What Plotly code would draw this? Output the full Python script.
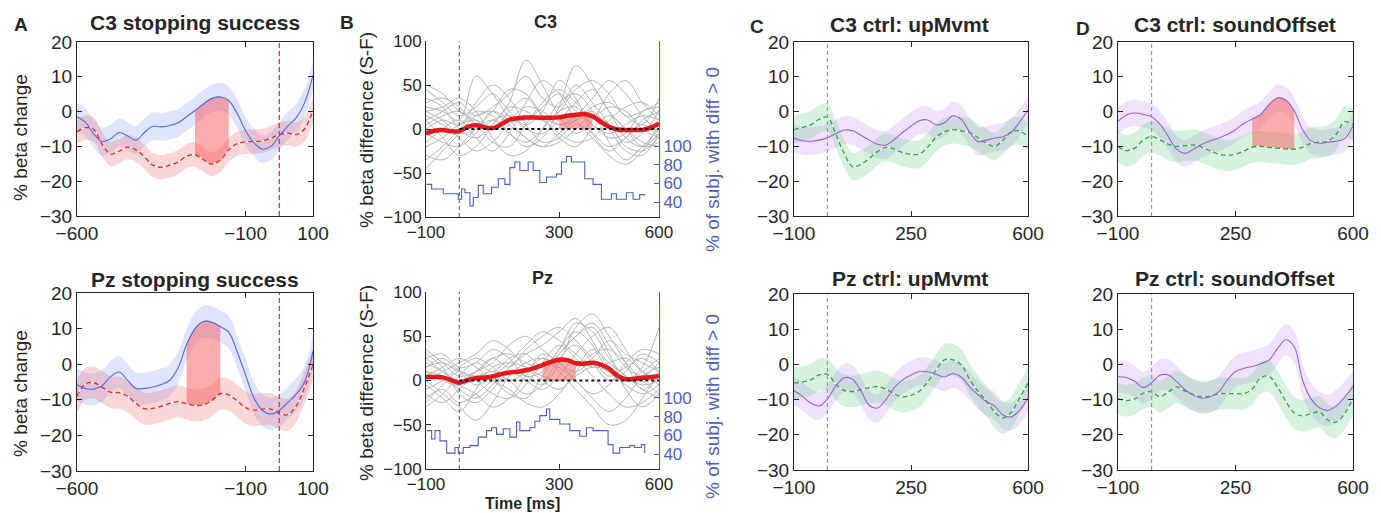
import plotly.graph_objects as go

W, H = 1381, 513
FONT = "Liberation Sans, Arial, Helvetica, sans-serif"
AXC = "#262626"

# ---------------- data ----------------
t_stop = list(range(-600, 101, 25))   # panel A time grid (ms)
t_ctrl = list(range(-100, 601, 25))   # panels B (mean), C, D time grid (ms)
t_subj = list(range(-100, 601, 50))   # panel B single-subject grid (ms)

# Panel A  (success = blue solid, failure = red dashed)
c3_success = [-1.5, -3.0, -6.5, -8.6, -7.8, -6.0, -7.0, -8.2, -6.0, -4.2, -4.4, -4.0, -3.2, -1.5, 0.3,
              2.2, 3.8, 4.2, 3.2, -0.5, -5.5, -9.0, -10.8, -10.0, -7.0, -4.2, -1.8, 2.5, 10.4]
c3_fail = [-5.8, -4.6, -5.2, -9.5, -12.2, -11.4, -10.2, -11.0, -13.0, -15.4, -16.0, -15.4, -14.5, -12.8, -12.4,
           -13.8, -15.1, -14.0, -11.0, -9.2, -8.7, -8.6, -8.4, -7.6, -6.6, -6.2, -6.6, -5.0, 0.4]
pz_success = [-5.8, -6.8, -7.0, -6.0, -3.5, -2.2, -4.5, -6.8, -6.8, -6.4, -5.7, -4.5, -1.0, 5.5, 10.0,
              12.0, 11.8, 10.6, 9.0, 3.5, -3.0, -9.5, -13.0, -14.0, -13.0, -10.8, -8.5, -5.0, 3.6]
pz_fail = [-9.0, -5.5, -5.2, -6.5, -7.9, -8.0, -9.0, -11.0, -12.5, -12.4, -11.8, -11.0, -10.5, -11.1, -11.6,
           -11.4, -10.2, -8.3, -8.6, -10.3, -12.2, -12.9, -12.6, -12.6, -13.8, -14.2, -11.8, -6.5, -0.2]
sem_A = {"c3_success": 4.0, "c3_fail": 3.5, "pz_success": 4.5, "pz_fail": 4.5}
sig_A_c3 = [-250, -150]
sig_A_pz = [-275, -175]

# Panel B  (success minus failure)
c3_diff_mean = [-5.0, -2.0, -1.2, -2.5, -2.6, 2.5, 4.2, 2.0, 1.0, 5.0, 10.5, 12.2, 13.0, 13.0, 12.8,
                12.7, 13.2, 15.0, 16.2, 17.0, 14.5, 8.0, 2.5, -0.5, -1.2, -1.2, -1.0, 1.5, 6.4]
pz_diff_mean = [4.3, 4.0, 3.5, 0.5, -2.5, 0.5, 2.5, 3.3, 4.5, 7.2, 9.0, 10.0, 11.5, 14.0, 17.5,
                21.0, 23.5, 23.0, 19.5, 19.0, 20.0, 18.0, 13.5, 5.5, 1.5, 1.8, 3.0, 3.8, 5.0]
sig_B_c3 = [300, 400]
sig_B_pz = [250, 350]

c3_subjects = [
    [50, 40, 20, 10, 0, 20, 35, 15, 5, 10, 25, 30, 15, 5, 35],
    [45, 30, 15, 25, 40, 20, 0, -5, 10, 30, 45, 20, -10, -20, -5],
    [-45, -25, -5, 15, 20, 5, -10, -20, -15, 0, 15, 5, -20, -25, -10],
    [25, 20, 10, 60, 40, 15, 10, 25, 40, 20, 5, -10, -5, 20, 25],
    [10, -10, -30, -20, 5, 30, 78, 50, 15, -5, 10, 40, 55, 30, 10],
    [-30, -35, -20, 0, 10, -5, -20, -10, 25, 72, 50, 20, 0, -20, -15],
    [20, 25, 35, 20, -10, -30, -25, 0, 30, 40, 20, -15, -35, -20, 0],
    [5, 15, 20, 5, -15, -20, 5, 30, 45, 30, 15, 25, 20, 0, -10],
    [-15, 0, 10, -10, -25, -5, 30, 55, 40, 10, -10, -30, -40, -25, 5],
    [35, 25, 0, -10, 5, 25, 20, 10, 20, 45, 55, 40, 15, 20, 30],
    [0, 10, 5, 30, 50, 35, 5, -15, -10, 5, -5, -20, -10, 10, 20],
    [-20, -10, 5, 10, 0, 10, 25, 20, 5, 15, 35, 55, 40, 15, -5],
    [15, 5, -10, -25, -15, 5, 15, 10, -5, -15, -10, 10, 25, 30, 15],
    [30, 35, 25, 5, 20, 45, 40, 15, -10, -20, 0, 15, 0, -15, -20],
    [-35, -20, 0, 20, 15, -5, -15, 0, 20, 25, 5, -5, 5, 15, 10],
    [10, 20, 30, 15, 25, 40, 60, 35, 25, 50, 30, 5, -15, -5, 20],
    [-5, -15, -20, -5, 10, 15, 5, 20, 55, 35, -5, -25, -10, 5, -10],
    [20, 10, -5, 0, 20, 10, -10, -20, -5, 10, 20, 0, -25, -30, -5],
]
pz_subjects = [
    [35, 20, 5, 10, 25, 30, 20, 15, 30, 50, 65, 40, 15, 5, 20],
    [15, 25, 10, -5, 5, 20, 40, 55, 45, 30, 15, 20, 25, 10, 0],
    [-20, -10, -25, -15, 0, 10, 5, -5, 20, 60, 75, 50, 20, -10, 5],
    [0, -15, -30, -45, -25, 5, 20, 25, 10, -10, -30, -50, -45, -20, 10],
    [25, 30, 15, 20, 35, 25, 5, 10, 35, 55, 40, 10, 0, 15, 60],
    [-25, -5, 10, 0, -15, -20, -5, 20, 40, 25, 5, -15, -30, -25, -10],
    [10, 5, -10, -20, -5, 15, 30, 40, 55, 70, 45, 15, 0, 10, 25],
    [5, 15, 25, 15, 0, -10, -25, -30, -15, 10, 30, 35, 20, 0, -15],
    [20, 10, 0, 10, 20, 40, 50, 35, 20, 10, 25, 45, 30, 20, 10],
    [-10, 0, 15, 25, 15, 0, 10, 25, 15, 0, -20, -35, -20, 5, 15],
    [30, 15, -15, -25, -10, 10, 0, -10, 5, 30, 50, 60, 35, 10, -5],
    [-5, -20, -35, -10, 15, 20, 15, 5, 0, 15, 35, 20, 5, -10, -20],
    [15, 20, 10, 5, 10, 0, -15, -5, 25, 40, 20, 0, 10, 30, 20],
    [0, 10, 20, 30, 45, 35, 15, 0, -10, 5, 15, 10, -5, -15, -5],
    [-15, -25, -10, 5, 0, -15, -20, 5, 30, 50, 60, 30, -10, -30, -15],
    [10, 0, -5, 10, 25, 15, 35, 50, 60, 45, 25, 5, 15, 25, 10],
    [25, 10, -5, -15, -30, -20, 5, 30, 20, 0, -15, -5, 20, 35, 30],
    [-30, -15, 5, 20, 10, 25, 30, 15, 35, 65, 55, 25, 5, -5, 0],
]

# % of subjects with diff > 0 (step lines, right axis)
c3_pct_t = [-98, -83, -48, -3, 7, 17, 32, 42, 57, 72, 97, 117, 137, 152, 167, 182, 207,
            222, 242, 262, 292, 307, 322, 337, 362, 377, 402, 427, 457, 472, 502, 522, 542, 557]
c3_pct = [59, 54, 49, 43, 54, 50, 36, 45, 58, 49, 56, 65, 59, 77, 83, 74, 83,
          74, 61, 67, 70, 83, 89, 83, 83, 65, 59, 43, 49, 43, 50, 43, 48, 47]
pz_pct_t = [-98, -83, -73, -58, -38, -13, -3, 12, 32, 57, 82, 97, 112, 132, 152, 172, 182,
            212, 227, 242, 262, 272, 302, 332, 362, 382, 402, 427, 447, 462, 482, 512, 527, 547, 557]
pz_pct = [65, 56, 65, 54, 41, 47, 41, 47, 49, 58, 65, 68, 61, 67, 58, 74, 65,
          68, 75, 81, 88, 77, 72, 65, 59, 68, 65, 65, 50, 41, 47, 49, 47, 50, 41]

# Panels C, D (stop = purple solid, control = green dashed)
c3_up_stop = [-7.6, -8.4, -8.5, -8.2, -7.5, -6.3, -5.3, -5.5, -6.8, -8.2, -9.4, -9.6, -8.0, -6.0, -4.2,
              -2.6, -2.4, -3.8, -3.2, -1.2, -2.2, -5.8, -8.6, -8.2, -7.6, -7.2, -6.0, -3.0, 0.5]
c3_up_ctrl = [-5.2, -4.5, -3.8, -2.2, -1.6, -6.5, -12.0, -15.8, -15.2, -13.5, -11.5, -10.3, -10.8, -11.8, -12.3,
              -12.2, -10.2, -7.4, -5.8, -5.2, -5.5, -6.0, -7.5, -9.0, -10.0, -8.2, -5.8, -5.6, -7.2]
pz_up_stop = [-7.5, -9.0, -11.0, -11.8, -9.8, -6.2, -3.8, -4.2, -7.5, -11.6, -12.4, -10.0, -6.6, -4.4, -3.0,
              -2.0, -2.1, -2.8, -3.6, -2.6, -3.6, -6.3, -8.6, -10.6, -11.8, -14.4, -14.9, -13.0, -9.6]
pz_up_ctrl = [-5.3, -5.0, -4.4, -3.0, -2.8, -5.6, -7.4, -7.7, -7.2, -6.6, -6.3, -7.0, -8.4, -9.2, -8.8,
              -7.6, -5.0, -1.6, 1.3, 1.3, -0.1, -4.2, -7.6, -10.3, -13.5, -15.2, -13.6, -9.5, -5.3]
c3_snd_stop = [-2.8, -1.0, -0.4, -0.8, -1.5, -3.6, -7.2, -10.8, -12.0, -10.8, -9.4, -8.4, -7.6, -6.6, -5.2,
               -3.4, -2.1, -0.8, 2.0, 3.9, 3.3, 0.2, -5.2, -8.4, -9.1, -8.8, -8.5, -7.8, -4.1]
c3_snd_ctrl = [-10.0, -11.2, -10.5, -8.2, -7.2, -8.1, -9.4, -10.0, -9.8, -9.6, -10.2, -11.3, -12.2, -12.6, -12.2,
               -11.3, -10.2, -10.0, -10.3, -10.5, -10.7, -10.8, -10.2, -9.1, -8.8, -8.5, -6.5, -2.9, -3.8]
pz_snd_stop = [-3.5, -3.7, -4.8, -6.6, -5.2, -3.1, -3.0, -4.9, -7.2, -8.8, -9.6, -9.2, -7.8, -4.5, -2.0,
               -1.1, -0.6, 0.2, 1.2, 4.5, 7.0, 5.0, -4.5, -9.8, -12.3, -13.1, -11.8, -9.3, -6.2]
pz_snd_ctrl = [-9.7, -10.3, -9.8, -8.2, -7.8, -9.2, -7.8, -6.4, -7.6, -8.6, -9.2, -9.0, -8.3, -8.3, -8.3,
               -8.3, -7.0, -3.8, -3.4, -6.4, -10.5, -13.8, -14.6, -14.0, -13.5, -15.8, -16.4, -14.0, -9.7]
sem_CD = {"c3_up": (4.0, 4.0), "pz_up": (4.0, 4.5), "c3_snd": (3.8, 4.5), "pz_snd": (4.5, 4.5)}
sig_D_c3 = [300, 425]

event_time = 0
zero_span = [0, 600]

# ---------------- styles ----------------
BLUE, BLUE_BAND = "#4f6bea", "rgba(95,125,250,0.20)"
RED, RED_BAND = "#e8262a", "rgba(240,85,85,0.24)"
PURPLE, PURPLE_BAND = "#9c5fd8", "rgba(185,125,240,0.22)"
GREEN, GREEN_BAND = "#2fa24a", "rgba(95,200,125,0.26)"
SIG_FILL = "rgba(245,90,90,0.50)"
SIG_LINE = "rgba(225,70,70,0.55)"
AXBLUE = "#4a5fc4"

fig = go.Figure()


def refs(n):
    return ("x" if n == 1 else f"x{n}"), ("y" if n == 1 else f"y{n}")


def band(n, t, m, s, color):
    xr, yr = refs(n)
    fig.add_trace(go.Scatter(x=t, y=[v - s for v in m], mode="lines", line=dict(width=0, shape="spline"),
                             xaxis=xr, yaxis=yr, showlegend=False, hoverinfo="skip"))
    fig.add_trace(go.Scatter(x=t, y=[v + s for v in m], mode="lines", line=dict(width=0, shape="spline"),
                             fill="tonexty", fillcolor=color, xaxis=xr, yaxis=yr, showlegend=False,
                             hoverinfo="skip"))


def sig_between(n, t, upper, lower, win):
    xr, yr = refs(n)
    idx = [i for i, v in enumerate(t) if win[0] <= v <= win[1]]
    ts = [t[i] for i in idx]
    fig.add_trace(go.Scatter(x=ts, y=[lower[i] for i in idx], mode="lines",
                             line=dict(width=1, color=SIG_LINE, shape="spline"),
                             xaxis=xr, yaxis=yr, showlegend=False))
    fig.add_trace(go.Scatter(x=ts, y=[upper[i] for i in idx], mode="lines",
                             line=dict(width=1, color=SIG_LINE, shape="spline"),
                             fill="tonexty", fillcolor=SIG_FILL, xaxis=xr, yaxis=yr, showlegend=False))


def solid(n, t, m, color, w=1.1):
    xr, yr = refs(n)
    fig.add_trace(go.Scatter(x=t, y=m, mode="lines", line=dict(color=color, width=w, shape="spline"),
                             xaxis=xr, yaxis=yr, showlegend=False))


def dashed(n, t, m, color, w=1.3):
    xr, yr = refs(n)
    fig.add_trace(go.Scatter(x=t, y=m, mode="lines", line=dict(color="white", width=1, shape="spline"),
                             xaxis=xr, yaxis=yr, showlegend=False))
    fig.add_trace(go.Scatter(x=t, y=m, mode="lines",
                             line=dict(color=color, width=w, shape="spline", dash="5px,3px"),
                             xaxis=xr, yaxis=yr, showlegend=False))


def vline(n, color, dash, w=1.1):
    xr, yr = refs(n)
    fig.add_shape(type="line", xref=xr, yref=f"{yr} domain", x0=event_time, x1=event_time, y0=0, y1=1,
                  line=dict(color=color, width=w, dash=dash), layer="above")


# ---- Panel A ----
for n, t, succ, fail, ks, kf, win in [
    (1, t_stop, c3_success, c3_fail, "c3_success", "c3_fail", sig_A_c3),
    (5, t_stop, pz_success, pz_fail, "pz_success", "pz_fail", sig_A_pz),
]:
    band(n, t, succ, sem_A[ks], BLUE_BAND)
    band(n, t, fail, sem_A[kf], RED_BAND)
    sig_between(n, t, succ, fail, win)
    dashed(n, t, fail, RED)
    solid(n, t, succ, BLUE)
    vline(n, RED, "5px,3px", 1.2)

# ---- Panels C, D ----
for n, stop, ctrl, key, win in [
    (3, c3_up_stop, c3_up_ctrl, "c3_up", None),
    (7, pz_up_stop, pz_up_ctrl, "pz_up", None),
    (4, c3_snd_stop, c3_snd_ctrl, "c3_snd", sig_D_c3),
    (8, pz_snd_stop, pz_snd_ctrl, "pz_snd", None),
]:
    sp, sc = sem_CD[key]
    band(n, t_ctrl, stop, sp, PURPLE_BAND)
    band(n, t_ctrl, ctrl, sc, GREEN_BAND)
    if win:
        sig_between(n, t_ctrl, stop, ctrl, win)
    dashed(n, t_ctrl, ctrl, GREEN)
    solid(n, t_ctrl, stop, PURPLE)
    vline(n, "#9a9a9a", "4px,3px", 1.2)

# ---- Panel B ----
for n, subjects, mean, win, pt, pv, yr2 in [
    (2, c3_subjects, c3_diff_mean, sig_B_c3, c3_pct_t, c3_pct, "y9"),
    (6, pz_subjects, pz_diff_mean, sig_B_pz, pz_pct_t, pz_pct, "y10"),
]:
    xr, yr = refs(n)
    for s in subjects:
        fig.add_trace(go.Scatter(x=t_subj, y=s, mode="lines",
                                 line=dict(color="#b5b5b5", width=1, shape="spline"),
                                 xaxis=xr, yaxis=yr, showlegend=False))
    fig.add_shape(type="line", xref=xr, yref=yr, x0=zero_span[0], x1=zero_span[1], y0=0, y1=0,
                  line=dict(color="#111111", width=2, dash="dot"), layer="above")
    vline(n, "#555555", "4px,3px", 1)
    idx = [i for i, v in enumerate(t_ctrl) if win[0] <= v <= win[1]]
    fig.add_trace(go.Scatter(x=[t_ctrl[i] for i in idx], y=[mean[i] for i in idx], mode="lines",
                             line=dict(width=0, shape="spline"), fill="tozeroy", fillcolor="rgba(245,110,110,0.55)",
                             xaxis=xr, yaxis=yr, showlegend=False))
    fig.add_trace(go.Scatter(x=t_ctrl, y=mean, mode="lines",
                             line=dict(color="#e3191c", width=4.5, shape="spline"),
                             xaxis=xr, yaxis=yr, showlegend=False))
    fig.add_trace(go.Scatter(x=pt, y=pv, mode="lines", line=dict(color=AXBLUE, width=1.1, shape="hv"),
                             xaxis=xr, yaxis=yr2, showlegend=False))

# ---------------- axes ----------------
def px2x(a, b):
    return [a / W, b / W]


def px2y(top, bot):
    return [1 - bot / H, 1 - top / H]


def base_axis(fs):
    return dict(showline=True, linecolor=AXC, linewidth=1, ticks="inside", ticklen=5, tickwidth=1,
                tickcolor=AXC, showgrid=False, zeroline=False, automargin=False,
                tickfont=dict(family=FONT, size=fs, color=AXC))


panels = [
    (1, (77, 313), (42, 216), [-600, 100], [-600, -100, 100], [-30, 20], [-30, -20, -10, 0, 10, 20], True),
    (5, (77, 313), (293, 471), [-600, 100], [-600, -100, 100], [-30, 20], [-30, -20, -10, 0, 10, 20], True),
    (2, (426, 659), (41, 217), [-100, 600], [-100, 300, 600], [-100, 100], [-100, -50, 0, 50, 100], False),
    (6, (426, 659), (292, 469), [-100, 600], [-100, 300, 600], [-100, 100], [-100, -50, 0, 50, 100], False),
    (3, (794, 1028), (42, 216), [-100, 600], [-100, 250, 600], [-30, 20], [-30, -20, -10, 0, 10, 20], True),
    (7, (794, 1028), (294, 470), [-100, 600], [-100, 250, 600], [-30, 20], [-30, -20, -10, 0, 10, 20], True),
    (4, (1118, 1353), (42, 216), [-100, 600], [-100, 250, 600], [-30, 20], [-30, -20, -10, 0, 10, 20], True),
    (8, (1118, 1353), (294, 470), [-100, 600], [-100, 250, 600], [-30, 20], [-30, -20, -10, 0, 10, 20], True),
]

layout = dict(width=W, height=H, margin=dict(l=0, r=0, t=0, b=0, autoexpand=False), paper_bgcolor="white",
              plot_bgcolor="white", showlegend=False, font=dict(family=FONT, color=AXC))

for n, xp, yp, xrng, xt, yrng, yt, box in panels:
    fs = 19 if box else 17
    xa = base_axis(fs)
    ya = base_axis(fs)
    xa.update(domain=px2x(*xp), range=xrng, tickvals=xt, anchor=refs(n)[1],
              mirror="ticks" if box else False)
    ya.update(domain=px2y(*yp), range=yrng, tickvals=yt, anchor=refs(n)[0],
              mirror="ticks" if box else False)
    layout["xaxis" if n == 1 else f"xaxis{n}"] = xa
    layout["yaxis" if n == 1 else f"yaxis{n}"] = ya

for k, base in [(9, 2), (10, 6)]:
    ra = base_axis(17)
    ra.update(overlaying=f"y{base}", anchor=f"x{base}", side="right", range=[24, 213],
              tickvals=[40, 60, 80, 100], linecolor=AXBLUE, tickcolor=AXBLUE,
              tickfont=dict(family=FONT, size=17, color=AXBLUE))
    layout[f"yaxis{k}"] = ra

fig.update_layout(**layout)

# ---------------- text ----------------
def note(text, x, y, size, bold=False, color=AXC, angle=0):
    fig.add_annotation(text=f"<b>{text}</b>" if bold else text, x=x / W, y=1 - y / H, xref="paper",
                       yref="paper", showarrow=False, xanchor="center", yanchor="middle",
                       textangle=angle, font=dict(family=FONT, size=size, color=color))


for txt, x, y in [("A", 21, 24), ("B", 347, 23), ("C", 757, 27), ("D", 1083, 28)]:
    note(txt, x, y, 19, bold=True)

for txt, x, y, s in [("C3 stopping success", 195, 23, 21), ("Pz stopping success", 195, 279, 21),
                     ("C3", 545, 22, 18), ("Pz", 542, 278, 18),
                     ("C3 ctrl: upMvmt", 910, 24, 21), ("Pz ctrl: upMvmt", 910, 278, 21),
                     ("C3 ctrl: soundOffset", 1235, 24, 21), ("Pz ctrl: soundOffset", 1235, 278, 21)]:
    note(txt, x, y, s, bold=True)

note("% beta change", 20, 138, 19, angle=-90)
note("% beta change", 20, 394, 19, angle=-90)
note("% beta difference (S-F)", 366, 130, 19, angle=-90)
note("% beta difference (S-F)", 366, 383, 19, angle=-90)
note("% of subj. with diff > 0", 712, 160, 19, color=AXBLUE, angle=-90)
note("% of subj. with diff > 0", 712, 407, 19, color=AXBLUE, angle=-90)
note("Time [ms]", 522, 503, 16, bold=True)

fig.write_html("out.html", config={"displayModeBar": False},
               post_script="document.body.style.margin='0';document.body.style.padding='0';"
                           "document.documentElement.style.overflow='hidden';")
